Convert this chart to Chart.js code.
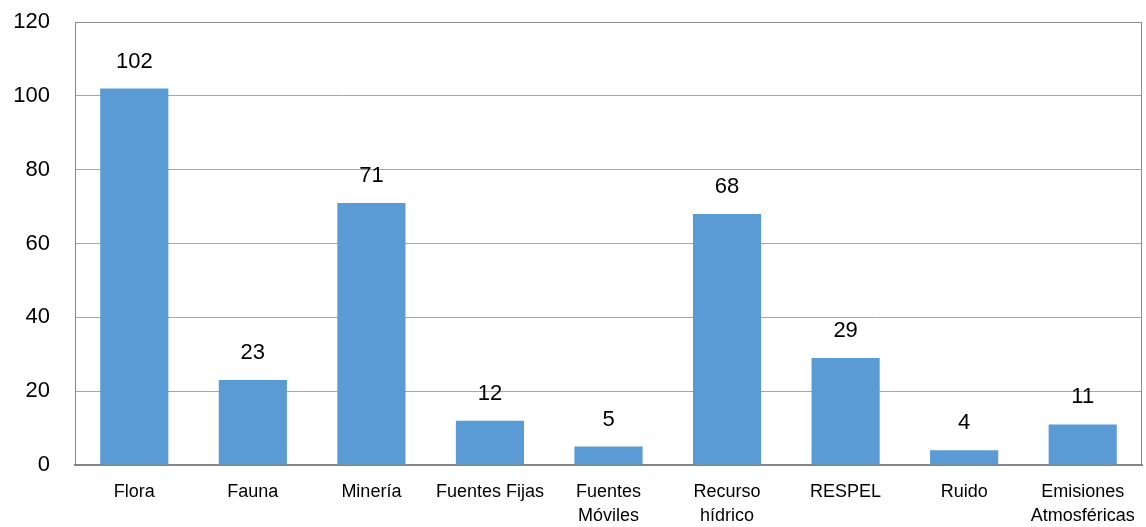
<!DOCTYPE html>
<html>
<head>
<meta charset="utf-8">
<script src="https://cdn.jsdelivr.net/npm/chart.js@4/dist/chart.umd.min.js"></script>
<style>
  html, body { margin: 0; padding: 0; background: #fff; }
  #wrap { width: 1146px; height: 527px; }
</style>
</head>
<body>
<div id="wrap"><canvas id="chart" width="1146" height="527"></canvas></div>
<script>
// categorias y valores
const categorias = [
  "Flora", "Fauna", "Minería", ["Fuentes Fijas"], ["Fuentes", "Móviles"],
  ["Recurso", "hídrico"], "RESPEL", "Ruido", ["Emisiones", "Atmosféricas"]
];
const valores = [102, 23, 71, 12, 5, 68, 29, 4, 11];
const yTicks = [0, 20, 40, 60, 80, 100, 120];

const FONT = "'Liberation Sans', Arial, sans-serif";

// etiquetas de valor encima de cada barra
const etiquetas = {
  id: "etiquetas",
  afterDatasetsDraw(chart) {
    const ctx = chart.ctx;
    const meta = chart.getDatasetMeta(0);
    ctx.save();
    ctx.font = "22px " + FONT;
    ctx.fillStyle = "#000";
    ctx.textAlign = "center";
    ctx.textBaseline = "middle";
    meta.data.forEach((bar, i) => {
      ctx.fillText(String(valores[i]), bar.x, bar.y - 27);
    });
    ctx.restore();
  }
};

// marco del area de trazado (arriba y derecha)
const marco = {
  id: "marco",
  beforeDatasetsDraw(chart) {
    const a = chart.chartArea;
    const ctx = chart.ctx;
    ctx.save();
    ctx.strokeStyle = "#8c8c8c";
    ctx.lineWidth = 1;
    ctx.beginPath();
    ctx.moveTo(a.left + 0.5, a.top + 0.5);
    ctx.lineTo(a.right - 0.5, a.top + 0.5);
    ctx.lineTo(a.right - 0.5, a.bottom);
    ctx.stroke();
    ctx.restore();
  }
};

new Chart(document.getElementById("chart").getContext("2d"), {
  type: "bar",
  data: {
    labels: categorias,
    datasets: [{
      data: valores,
      backgroundColor: "#5B9BD5",
      borderWidth: 0,
      barPercentage: 0.575,
      categoryPercentage: 1.0
    }]
  },
  options: {
    responsive: false,
    animation: false,
    layout: { padding: { top: 22, right: 4, left: 0, bottom: 0 } },
    plugins: { legend: { display: false }, tooltip: { enabled: false } },
    scales: {
      y: {
        min: 0,
        max: 120,
        afterFit(scale) {
          scale.width = 75;
          scale.paddingTop = 0;
          scale.paddingBottom = 0;
        },
        afterBuildTicks(scale) { scale.ticks = yTicks.map(v => ({ value: v })); },
        grid: { color: "#a6a6a6", lineWidth: 1, drawTicks: false },
        border: { display: true, color: "#868686", width: 1 },
        ticks: {
          color: "#000",
          font: { family: FONT, size: 22 },
          padding: 25
        }
      },
      x: {
        afterFit(scale) {
          scale.height = 62;
          scale.paddingLeft = 0;
          scale.paddingRight = 0;
        },
        grid: { display: false, drawTicks: false },
        border: { display: true, color: "#868686", width: 2 },
        ticks: {
          color: "#000",
          font: { family: FONT, size: 18, lineHeight: 1.33 },
          padding: 15,
          maxRotation: 0,
          autoSkip: false
        }
      }
    }
  },
  plugins: [marco, etiquetas]
});
</script>
</body>
</html>
